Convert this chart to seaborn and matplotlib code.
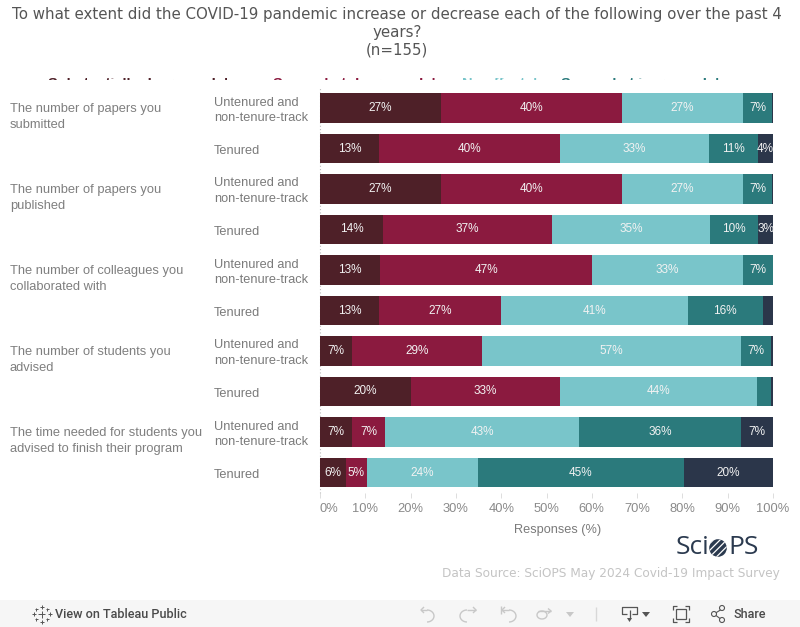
import numpy as np
import pandas as pd
import seaborn as sns
import matplotlib.pyplot as plt
from matplotlib.patches import Rectangle, Circle, Polygon
from matplotlib.transforms import ScaledTranslation

# data
questions = [
    "The number of papers you\nsubmitted",
    "The number of papers you\npublished",
    "The number of colleagues you\ncollaborated with",
    "The number of students you\nadvised",
    "The time needed for students you\nadvised to finish their program",
]
tenure_labels = ["Untenured and\nnon-tenure-track", "Tenured"] * 5
responses = ["Substantially decreased", "Somewhat decreased", "No effect",
             "Somewhat increased", "Substantially increased"]
colors = ["#4e2028", "#8b1a3f", "#79c5ca", "#2b7a7c", "#2b364a"]
x_ticks = [0, 10, 20, 30, 40, 50, 60, 70, 80, 90, 100]

sub_decreased = [26.7, 13.0, 26.7, 13.9, 13.3, 13.0, 7.0, 20.0, 7.1, 5.8]
som_decreased = [40.0, 40.0, 40.0, 37.4, 46.7, 27.0, 28.8, 33.0, 7.2, 4.5]
no_effect = [26.7, 32.9, 26.7, 34.8, 33.3, 41.2, 57.1, 43.5, 42.9, 24.6]
som_increased = [6.3, 10.7, 6.3, 10.6, 6.7, 16.5, 6.7, 3.1, 35.7, 45.4]
sub_increased = [0.3, 3.4, 0.3, 3.3, 0.0, 2.3, 0.4, 0.4, 7.1, 19.7]

sub_decreased_text = ["27%", "13%", "27%", "14%", "13%", "13%", "7%", "20%", "7%", "6%"]
som_decreased_text = ["40%", "40%", "40%", "37%", "47%", "27%", "29%", "33%", "7%", "5%"]
no_effect_text = ["27%", "33%", "27%", "35%", "33%", "41%", "57%", "44%", "43%", "24%"]
som_increased_text = ["7%", "11%", "7%", "10%", "7%", "16%", "7%", "", "36%", "45%"]
sub_increased_text = ["", "4%", "", "3%", "", "", "", "", "7%", "20%"]

W, H = 800, 627
ARIAL = "Liberation Sans"
sns.set_theme(style="white")
plt.rcParams["font.family"] = [ARIAL, "DejaVu Sans"]
plt.rcParams["hatch.linewidth"] = 0.9

fig = plt.figure(figsize=(W / 100, H / 100), dpi=100, facecolor="white")

# full-figure axes in pixel coordinates for everything around the chart
over = fig.add_axes([0, 0, 1, 1], zorder=0)
over.set_xlim(0, W)
over.set_ylim(H, 0)
over.axis("off")

ax = fig.add_axes([320 / W, 1 - 492.75 / H, 453 / W, 405 / H], zorder=1)
ax.patch.set_alpha(0)

rows = [f"r{i}" for i in range(10)]
series = [sub_decreased, som_decreased, no_effect, som_increased, sub_increased]
series_text = [sub_decreased_text, som_decreased_text, no_effect_text,
               som_increased_text, sub_increased_text]
table = pd.DataFrame(dict(zip(responses, series)), index=rows)
cumulative = table.cumsum(axis=1)

# stacked look: longest running total first, shorter ones on top
for name, col in reversed(list(zip(responses, colors))):
    sns.barplot(x=cumulative[name].values, y=rows, color=col, saturation=1,
                width=0.74, orient="h", ax=ax, linewidth=0, zorder=2)

for name, texts in zip(responses, series_text):
    ends = cumulative[name].values
    mids = ends - table[name].values / 2
    for i, label in enumerate(texts):
        if label:
            ax.text(mids[i], i, label, color="#f2f2f2", fontsize=8.5,
                    ha="center", va="center", zorder=3)

ax.set_xlim(0, 100)
ax.set_ylim(9.5, -0.5)
ax.set_xticks(x_ticks)
ax.set_xticklabels([f"{t}%" for t in x_ticks], color="#8a8a8a", fontsize=9.3)
ax.get_xticklabels()[0].set_ha("left")
ax.tick_params(axis="x", length=3.5, width=0.7, color="#dddddd", pad=4, bottom=True)
ax.set_yticks(range(10))
ax.set_yticklabels(tenure_labels, color="#7a7a7a", fontsize=9.2, ha="left",
                   linespacing=1.42)
ax.tick_params(axis="y", length=0, pad=76.5)
# two-line labels sit a bit higher than the one-line ones
for i, lab in enumerate(ax.get_yticklabels()):
    shift = 1.0 if i % 2 == 0 else -0.8
    lab.set_transform(lab.get_transform() + ScaledTranslation(0, shift / 100, fig.dpi_scale_trans))
for spine in ax.spines.values():
    spine.set_visible(False)
ax.axvline(0, color="#bdbdbd", lw=0.8, ls=(0, (1, 2)), clip_on=False, zorder=1)

over.text(558, 530.5, "Responses (%)", color="#7a7a7a", fontsize=9.2, ha="center", va="center")

# title
over.text(397, 32, "To what extent did the COVID-19 pandemic increase or decrease each of the following over the past 4\nyears?\n(n=155)",
          family="DejaVu Sans", color="#555555", fontsize=10.85, ha="center", va="center",
          linespacing=1.25)

# legend row is cut off in the dashboard, only the tops of the letters show
clip = Rectangle((0, 78.4), W, 1.7, transform=over.transData)
legend_x = [48, 273, 462, 561]
legend_text = ["Substantially decreased  |", "Somewhat decreased  |", "No effect  |", "Somewhat increased  |"]
legend_col = [colors[0], colors[1], colors[2], colors[3]]
for lx, txt, col in zip(legend_x, legend_text, legend_col):
    t = over.text(lx, 88, txt, color=col, fontsize=10.5, fontweight="bold",
                  ha="left", va="baseline", clip_on=True)
    t.set_clip_path(clip)

# question labels, one for each pair of bars
for k, q in enumerate(questions):
    over.text(10, 117 + k * 81, q, color="#7f7f7f", fontsize=9.3, ha="left",
              va="center", linespacing=1.42)

# logo and source
navy = "#2b3a4f"
over.text(676, 548, "Sci", family="Open Sans", color=navy, fontsize=19, ha="left", va="center")
logo = Circle((718, 548), 8.8, facecolor=navy, edgecolor="white", hatch="/////", lw=0)
over.add_patch(logo)
over.text(728, 548, "PS", family="Open Sans", color=navy, fontsize=19, ha="left", va="center")
over.text(780, 574, "Data Source: SciOPS May 2024 Covid-19 Impact Survey", family="DejaVu Sans",
          color="#c4c4c4", fontsize=8.72, ha="right", va="center")

# tableau toolbar
over.add_patch(Rectangle((0, 600), W, 27, facecolor="#f6f6f6", edgecolor="none"))
over.text(55, 614, "View on Tableau Public", family="Roboto", color="#4a4a4a", fontsize=9.1,
          fontweight="medium", ha="left", va="center")
over.text(733, 614, "Share", family="Roboto", color="#4a4a4a", fontsize=9.1, fontweight="medium",
          ha="left", va="center")

grey = "#c8c8c8"
dark = "#555555"


def icon_line(xs, ys, col=dark, lw=0.9):
    over.plot(xs, ys, color=col, lw=lw, solid_capstyle="butt")


# tableau cross cluster
for cx, cy, s in [(41.5, 614, 3.5), (33.5, 614, 2), (49.5, 614, 2), (41.5, 606.5, 2),
                  (41.5, 621.5, 2), (36, 609, 1.5), (47, 609, 1.5), (36, 619, 1.5), (47, 619, 1.5)]:
    icon_line([cx - s, cx + s], [cy, cy], "#555555", 0.7)
    icon_line([cx, cx], [cy - s, cy + s], "#555555", 0.7)

# undo, redo, revert, refresh
arc = np.linspace(-np.pi / 2, np.pi / 2, 20)
icon_line(427 + 7 * np.cos(arc), 616 + 6 * np.sin(arc), grey, 1)
icon_line([421, 427], [610, 610], grey, 1)
icon_line([424, 421, 424], [607, 610, 613], grey, 1)
icon_line(467 - 7 * np.cos(arc), 616 + 6 * np.sin(arc), grey, 1)
icon_line([467, 476], [610, 610], grey, 1)
icon_line([473, 476, 473], [607, 610, 613], grey, 1)
icon_line(509 + 7 * np.cos(arc), 616 + 6 * np.sin(arc), grey, 1)
icon_line([502, 509], [610, 610], grey, 1)
icon_line([501, 501], [606, 614], grey, 1)
icon_line([505, 502, 505], [607, 610, 613], grey, 1)
icon_line(542 + 5 * np.cos(arc), 615 + 4 * np.sin(arc), grey, 1)
icon_line(542 - 5 * np.cos(arc), 615 + 4 * np.sin(arc), grey, 1)
icon_line([538, 551], [611, 611], grey, 1)
icon_line([548, 551, 548], [608.5, 611, 613.5], grey, 1)
over.add_patch(Polygon([[566, 612], [574, 612], [570, 617]], facecolor=grey, edgecolor="none"))
icon_line([595.5, 595.5], [607, 621], "#d8d8d8", 1)

# download
icon_line([627, 622, 622, 637, 637, 632], [614, 614, 607, 607, 614, 614], dark, 0.9)
icon_line([629.5, 629.5], [610, 619], dark, 0.9)
over.add_patch(Polygon([[627, 618], [632, 618], [629.5, 622]], facecolor=dark, edgecolor="none"))
over.add_patch(Polygon([[642, 612], [650, 612], [646, 617]], facecolor=dark, edgecolor="none"))

# fullscreen
icon_line([673, 673, 677], [610, 606, 606], dark, 0.9)
icon_line([685, 689, 689], [606, 606, 610], dark, 0.9)
icon_line([673, 673, 677], [618, 622, 622], dark, 0.9)
icon_line([685, 689, 689], [622, 622, 618], dark, 0.9)
over.add_patch(Rectangle((676, 609), 10, 10, facecolor="none", edgecolor=dark, lw=0.9))

# share
icon_line([714, 722], [614, 609], dark, 0.8)
icon_line([714, 722], [614, 620], dark, 0.8)
for cx, cy in [(714, 614), (722, 608), (722, 620)]:
    over.add_patch(Circle((cx, cy), 2.5, facecolor="#f6f6f6", edgecolor=dark, lw=0.8, zorder=3))

fig.savefig("out.png", dpi=100)
